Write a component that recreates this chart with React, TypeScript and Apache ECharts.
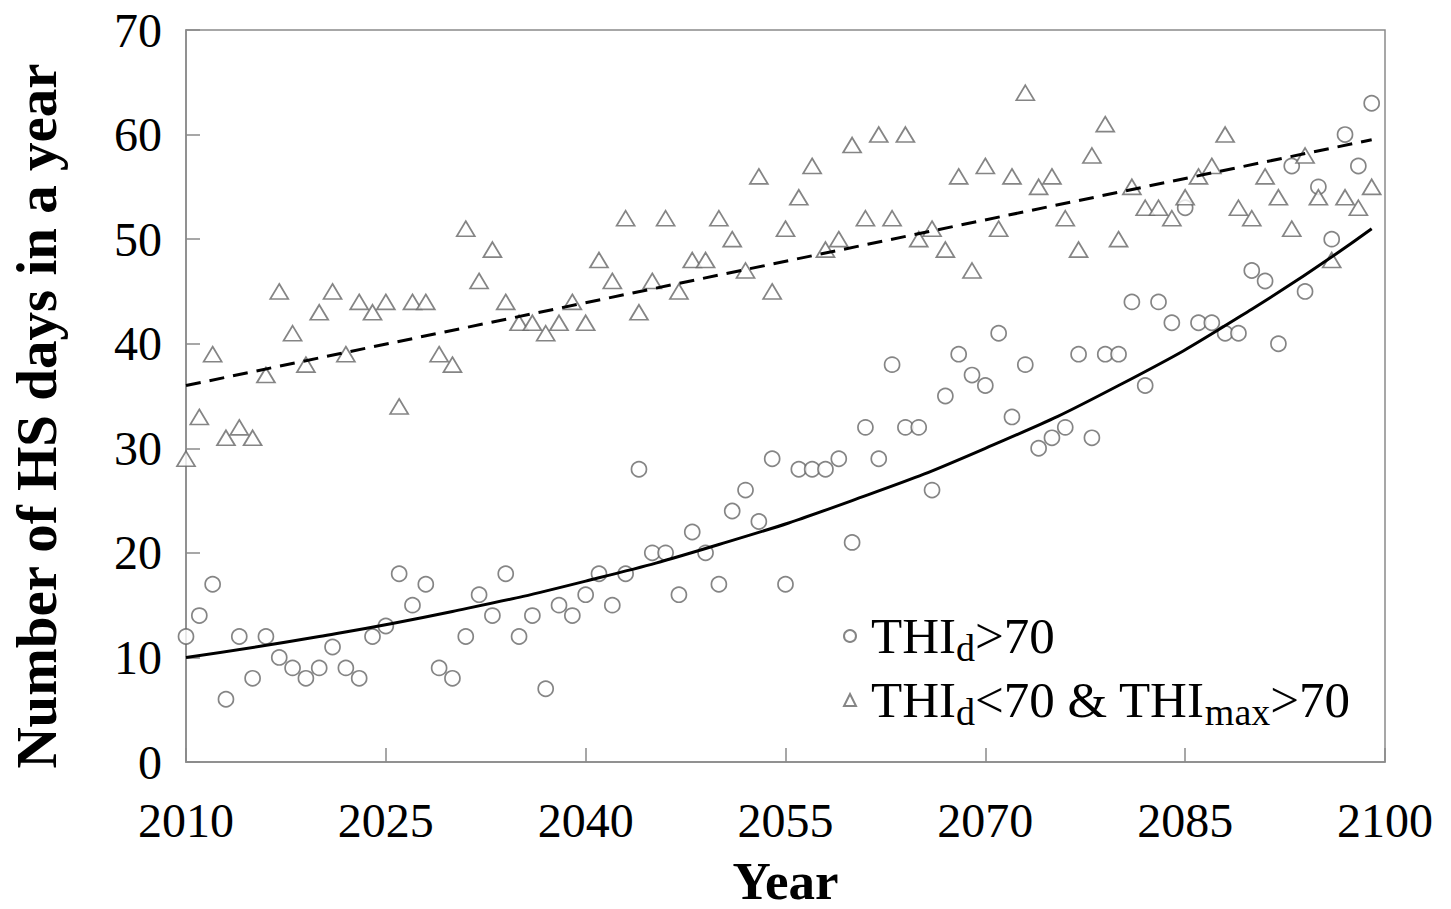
import React, { useEffect, useRef } from "react";
import * as echarts from "echarts";

const years: number[] = [];
for (let y = 2010; y <= 2099; y++) years.push(y);

// THId > 70 (circles)
const thiDOver70 = [
  12, 14, 17, 6, 12, 8, 12, 10, 9, 8,
  9, 11, 9, 8, 12, 13, 18, 15, 17, 9,
  8, 12, 16, 14, 18, 12, 14, 7, 15, 14,
  16, 18, 15, 18, 28, 20, 20, 16, 22, 20,
  17, 24, 26, 23, 29, 17, 28, 28, 28, 29,
  21, 32, 29, 38, 32, 32, 26, 35, 39, 37,
  36, 41, 33, 38, 30, 31, 32, 39, 31, 39,
  39, 44, 36, 44, 42, 53, 42, 42, 41, 41,
  47, 46, 40, 57, 45, 55, 50, 60, 57, 63,
];

// THId < 70 & THImax > 70 (triangles)
const thiMaxOver70 = [
  29, 33, 39, 31, 32, 31, 37, 45, 41, 38,
  43, 45, 39, 44, 43, 44, 34, 44, 44, 39,
  38, 51, 46, 49, 44, 42, 42, 41, 42, 44,
  42, 48, 46, 52, 43, 46, 52, 45, 48, 48,
  52, 50, 47, 56, 45, 51, 54, 57, 49, 50,
  59, 52, 60, 52, 60, 50, 51, 49, 56, 47,
  57, 51, 56, 64, 55, 56, 52, 49, 58, 61,
  50, 55, 53, 53, 52, 54, 56, 57, 60, 53,
  52, 56, 54, 51, 58, 54, 48, 54, 53, 55,
];

// Trend curves
const solidTrendYears = [2010, 2020, 2030, 2040, 2050, 2060, 2070, 2080, 2090, 2099];
const solidTrendValues = [10.0, 12.0, 14.4, 17.3, 20.8, 25.0, 30.0, 36.0, 43.3, 51.0];
const dashedTrendYears = [2010, 2099];
const dashedTrendValues = [36.0, 59.5];

const xTicks = [2010, 2025, 2040, 2055, 2070, 2085, 2100];

const yTitle = "Number of HS days in a year";
const xTitle = "Year";

const FONT = "'Liberation Serif', 'Times New Roman', serif";

export default function App() {
  const ref = useRef<HTMLDivElement>(null);
  useEffect(() => {
    if (!ref.current) return;
    const chart = echarts.init(ref.current, null, { renderer: "svg" });
    const markerStyle = { color: "#ffffff", borderColor: "#666666", borderWidth: 1.7 };
    chart.setOption({
      animation: false,
      backgroundColor: "#ffffff",
      grid: {
        left: 186,
        right: 66,
        top: 30,
        bottom: 147,
        outerBoundsMode: "none",
        containLabel: false,
        show: true,
        borderColor: "#8a8a8a",
        borderWidth: 1.5,
        backgroundColor: "transparent",
      },
      graphic: [
        {
          type: "text",
          x: 36,
          y: 416,
          rotation: Math.PI / 2,
          style: {
            text: yTitle,
            fontFamily: FONT,
            fontSize: 57,
            fontWeight: "bold",
            fill: "#000",
            align: "center",
            verticalAlign: "middle",
          },
        },
      ],
      legend: {
        orient: "vertical",
        left: 838,
        top: 600,
        itemWidth: 12,
        itemHeight: 12,
        itemGap: 2,
        data: ["THId>70", "THId<70 & THImax>70"],
        formatter: (name: string) =>
          name === "THId>70"
            ? "{f|THI}{s|d}{n|>70}"
            : "{f|THI}{s|d}{n|<70 & THI}{s|max}{n|>70}",
        textStyle: {
          fontFamily: FONT,
          color: "#000",
          rich: {
            f: { fontFamily: FONT, fontSize: 51, color: "#000", lineHeight: 55, padding: [0, 0, 0, 10] },
            n: { fontFamily: FONT, fontSize: 51, color: "#000", lineHeight: 55 },
            s: { fontFamily: FONT, fontSize: 38, color: "#000", padding: [24, 0, 0, 0], lineHeight: 55 },
          },
        },
      },
      xAxis: {
        type: "value",
        min: 2010,
        max: 2100,
        interval: 15,
        name: xTitle,
        nameLocation: "middle",
        nameGap: 92,
        nameTextStyle: { fontFamily: FONT, fontSize: 53, fontWeight: "bold", color: "#000" },
        axisLine: { show: true, lineStyle: { color: "#8a8a8a", width: 1.5 } },
        axisTick: { show: true, inside: true, length: 14, lineStyle: { color: "#8a8a8a", width: 1.5 } },
        axisLabel: {
          fontFamily: FONT,
          fontSize: 48,
          color: "#000",
          margin: 34,
          formatter: (v: number) => (xTicks.includes(v) ? String(v) : ""),
        },
        splitLine: { show: false },
      },
      yAxis: {
        type: "value",
        min: 0,
        max: 70,
        interval: 10,
        axisLine: { show: true, lineStyle: { color: "#8a8a8a", width: 1.5 } },
        axisTick: { show: true, inside: true, length: 14, lineStyle: { color: "#8a8a8a", width: 1.5 } },
        axisLabel: { fontFamily: FONT, fontSize: 48, color: "#000", margin: 24 },
        splitLine: { show: false },
      },
      series: [
        {
          name: "THId>70",
          type: "scatter",
          symbol: "circle",
          symbolSize: 15,
          itemStyle: markerStyle,
          data: years.map((y, i) => [y, thiDOver70[i]]),
          z: 3,
        },
        {
          name: "THId<70 & THImax>70",
          type: "scatter",
          symbol: "triangle",
          symbolSize: [18, 15],
          itemStyle: markerStyle,
          data: years.map((y, i) => [y, thiMaxOver70[i]]),
          z: 3,
        },
        {
          name: "solidTrend",
          type: "line",
          smooth: true,
          showSymbol: false,
          lineStyle: { color: "#000", width: 3 },
          data: solidTrendYears.map((y, i) => [y, solidTrendValues[i]]),
          z: 4,
        },
        {
          name: "dashedTrend",
          type: "line",
          showSymbol: false,
          lineStyle: { color: "#000", width: 3, type: [15, 9] },
          data: dashedTrendYears.map((y, i) => [y, dashedTrendValues[i]]),
          z: 4,
        },
      ],
    });
    return () => chart.dispose();
  }, []);
  return (
    <div
      ref={ref}
      style={{ position: "fixed", left: 0, top: 0, width: 1451, height: 909, background: "#fff" }}
    />
  );
}
